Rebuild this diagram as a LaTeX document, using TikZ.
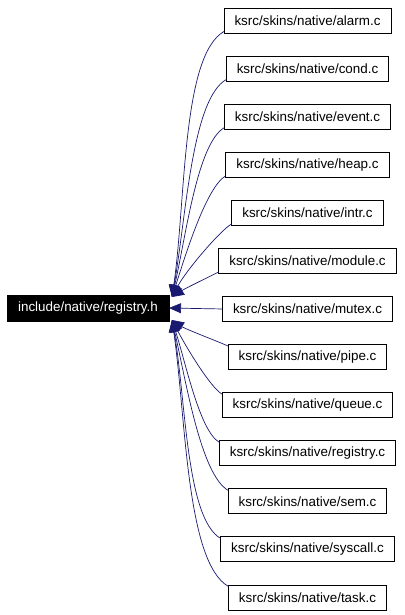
\documentclass[tikz,border=0pt]{standalone}
\usepackage{fontspec}
\setmainfont{Liberation Sans}
\usetikzlibrary{arrows.meta,calc}
\definecolor{edgeblue}{RGB}{25,25,112}
\tikzset{
  filebox/.style={draw=black, fill=white, line width=0.8pt, minimum height=25pt, inner xsep=10.5pt, inner ysep=0pt, font=\fontsize{13.4}{15}\selectfont, text=black},
  mainbox/.style={draw=black, fill=black, minimum height=25.5pt, minimum width=162pt, inner xsep=0pt, inner ysep=0pt, font=\fontsize{13.4}{15}\selectfont, text=white},
  dep/.style={draw=edgeblue, line width=0.7pt, -{Triangle[length=12pt,width=10pt]}}
}
\begin{document}
\begin{tikzpicture}[x=1pt,y=-1pt]
\useasboundingbox[fill=white] (0,0) rectangle (404,615);
\node[mainbox] (reg) at (88,308) {include/native/registry.h};
\foreach \i/\nm in {0/alarm,1/cond,2/event,3/heap,4/intr,5/module,6/mutex,7/pipe,8/queue,9/registry,10/sem,11/syscall,12/task}{
  \node[filebox] (n\i) at (307.5,{20.5+48.08*\i}) {ksrc/skins/native/\nm.c};
}
% tips on the main node
\coordinate (tu) at (172,297);
\coordinate (tm) at (169,308);
\coordinate (tl) at (172,320);
% upper edges
\foreach \i in {0,...,5}{
  \path (n\i.south west) ++(0.5,-2) coordinate (s\i);
  \path let \p1=(s\i), \p2=(tu), \n1={\y1-\y2} in
    coordinate (ca\i) at (\x1-0.16*\n1, \y1-0.09*\n1)
    coordinate (cb\i) at (\x2+14pt, \y2+0.36*\n1);
  \draw[dep] (s\i) .. controls (ca\i) and (cb\i) .. (tu);
}
% middle edge
\draw[dep] (n6.west) -- (tm);
% lower edges
\foreach \i in {7,...,12}{
  \path (n\i.north west) ++(0.5,2) coordinate (s\i);
  \path let \p1=(s\i), \p2=(tl), \n1={\y2-\y1} in
    coordinate (ca\i) at (\x1-0.16*\n1, \y1+0.09*\n1)
    coordinate (cb\i) at (\x2+14pt, \y2-0.36*\n1);
  \draw[dep] (s\i) .. controls (ca\i) and (cb\i) .. (tl);
}
\end{tikzpicture}
\end{document}
